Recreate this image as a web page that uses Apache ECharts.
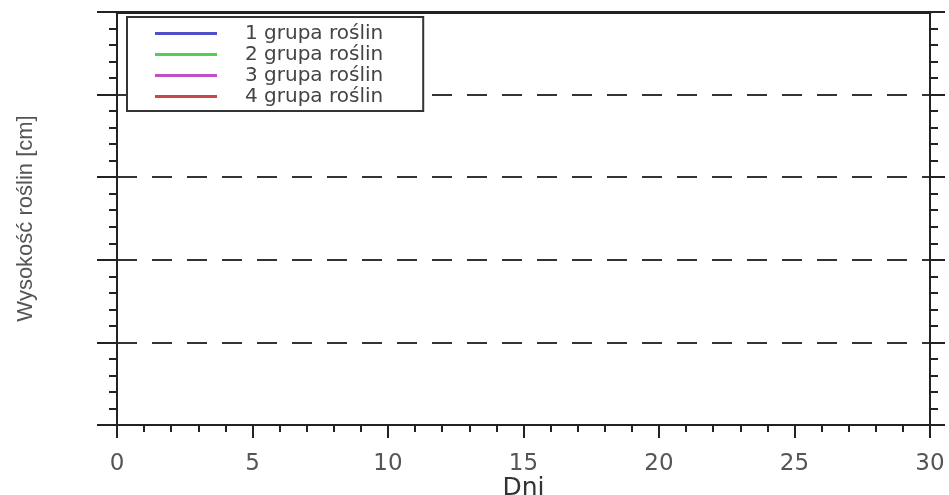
<!DOCTYPE html>
<html>
<head>
<meta charset="utf-8">
<script src="https://cdn.jsdelivr.net/npm/echarts@6/dist/echarts.min.js"></script>
<style>html,body{margin:0;padding:0;background:#fff;}#c{width:949px;height:495px;}</style>
</head>
<body>
<div id="c"></div>
<script>
// Data (the reference chart has no plotted values – the series are empty)
var seriesNames = ['1 grupa roślin', '2 grupa roślin', '3 grupa roślin', '4 grupa roślin'];
var seriesColors = ['#5050c8', '#50d050', '#c050c8', '#c84848'];
var group1 = [];
var group2 = [];
var group3 = [];
var group4 = [];
var xMin = 0, xMax = 30, xStep = 5;
var yMin = 0, yMax = 5, yStep = 1;
var xTitle = 'Dni';
var yTitle = 'Wysokość roślin [cm]';

var allData = [group1, group2, group3, group4];
var axisCol = '#222';

var chart = echarts.init(document.getElementById('c'), null, {renderer: 'canvas'});
chart.setOption({
  animation: false,
  backgroundColor: '#fff',
  grid: {left: 117, right: 19, top: 12, bottom: 70, containLabel: false, outerBoundsMode: 'none'},
  legend: {
    orient: 'vertical',
    left: 127, top: 17,
    padding: [6, 40, 4, 28],
    icon: 'rect',
    itemWidth: 62, itemHeight: 3, itemGap: 0,
    borderColor: '#333', borderWidth: 2,
    backgroundColor: '#fff',
    textStyle: {fontFamily: 'DejaVu Sans', fontSize: 20, lineHeight: 21, color: '#444', padding: [0, 0, 0, 23]},
    data: seriesNames
  },
  xAxis: [{
    type: 'value', min: xMin, max: xMax, interval: xStep,
    name: xTitle, nameLocation: 'middle', nameGap: 51, nameMoveOverlap: false,
    nameTextStyle: {fontFamily: 'DejaVu Sans', fontSize: 25, color: '#333'},
    axisLine: {show: true, onZero: false, lineStyle: {color: axisCol, width: 2}},
    axisTick: {show: true, inside: false, length: 13, lineStyle: {color: axisCol, width: 2}},
    minorTick: {show: true, splitNumber: 5, length: 7, lineStyle: {color: axisCol, width: 2}},
    axisLabel: {margin: 28, fontFamily: 'DejaVu Sans', fontSize: 23, color: '#555'},
    splitLine: {show: false}
  }, {
    type: 'value', position: 'top', min: xMin, max: xMax, interval: xStep,
    axisLine: {show: true, onZero: false, lineStyle: {color: axisCol, width: 3}},
    axisTick: {show: false}, axisLabel: {show: false}, splitLine: {show: false}
  }],
  yAxis: [{
    type: 'value', min: yMin, max: yMax, interval: yStep,
    name: yTitle, nameLocation: 'middle', nameGap: 80, nameRotate: 90, nameMoveOverlap: false,
    nameTextStyle: {fontFamily: 'Liberation Sans', fontSize: 22, color: '#555'},
    axisLine: {show: true, onZero: false, lineStyle: {color: axisCol, width: 2}},
    axisTick: {show: true, inside: false, length: 20, lineStyle: {color: axisCol, width: 2}},
    minorTick: {show: true, splitNumber: 5, length: 8, lineStyle: {color: axisCol, width: 2}},
    axisLabel: {show: false},
    splitLine: {show: true, lineStyle: {color: '#333', width: 2, type: [20, 15], dashOffset: 0}}
  }, {
    type: 'value', position: 'right', min: yMin, max: yMax, interval: yStep,
    axisLine: {show: true, onZero: false, lineStyle: {color: axisCol, width: 2}},
    axisTick: {show: true, inside: false, length: 15, lineStyle: {color: axisCol, width: 2}},
    minorTick: {show: true, splitNumber: 5, length: 8, lineStyle: {color: axisCol, width: 2}},
    axisLabel: {show: false},
    splitLine: {show: false}
  }],
  series: seriesNames.map(function (n, i) {
    return {
      name: n, type: 'line', xAxisIndex: 0, yAxisIndex: 0,
      data: allData[i], symbol: 'none',
      itemStyle: {color: seriesColors[i]},
      lineStyle: {color: seriesColors[i], width: 3}
    };
  })
});
</script>
</body>
</html>
